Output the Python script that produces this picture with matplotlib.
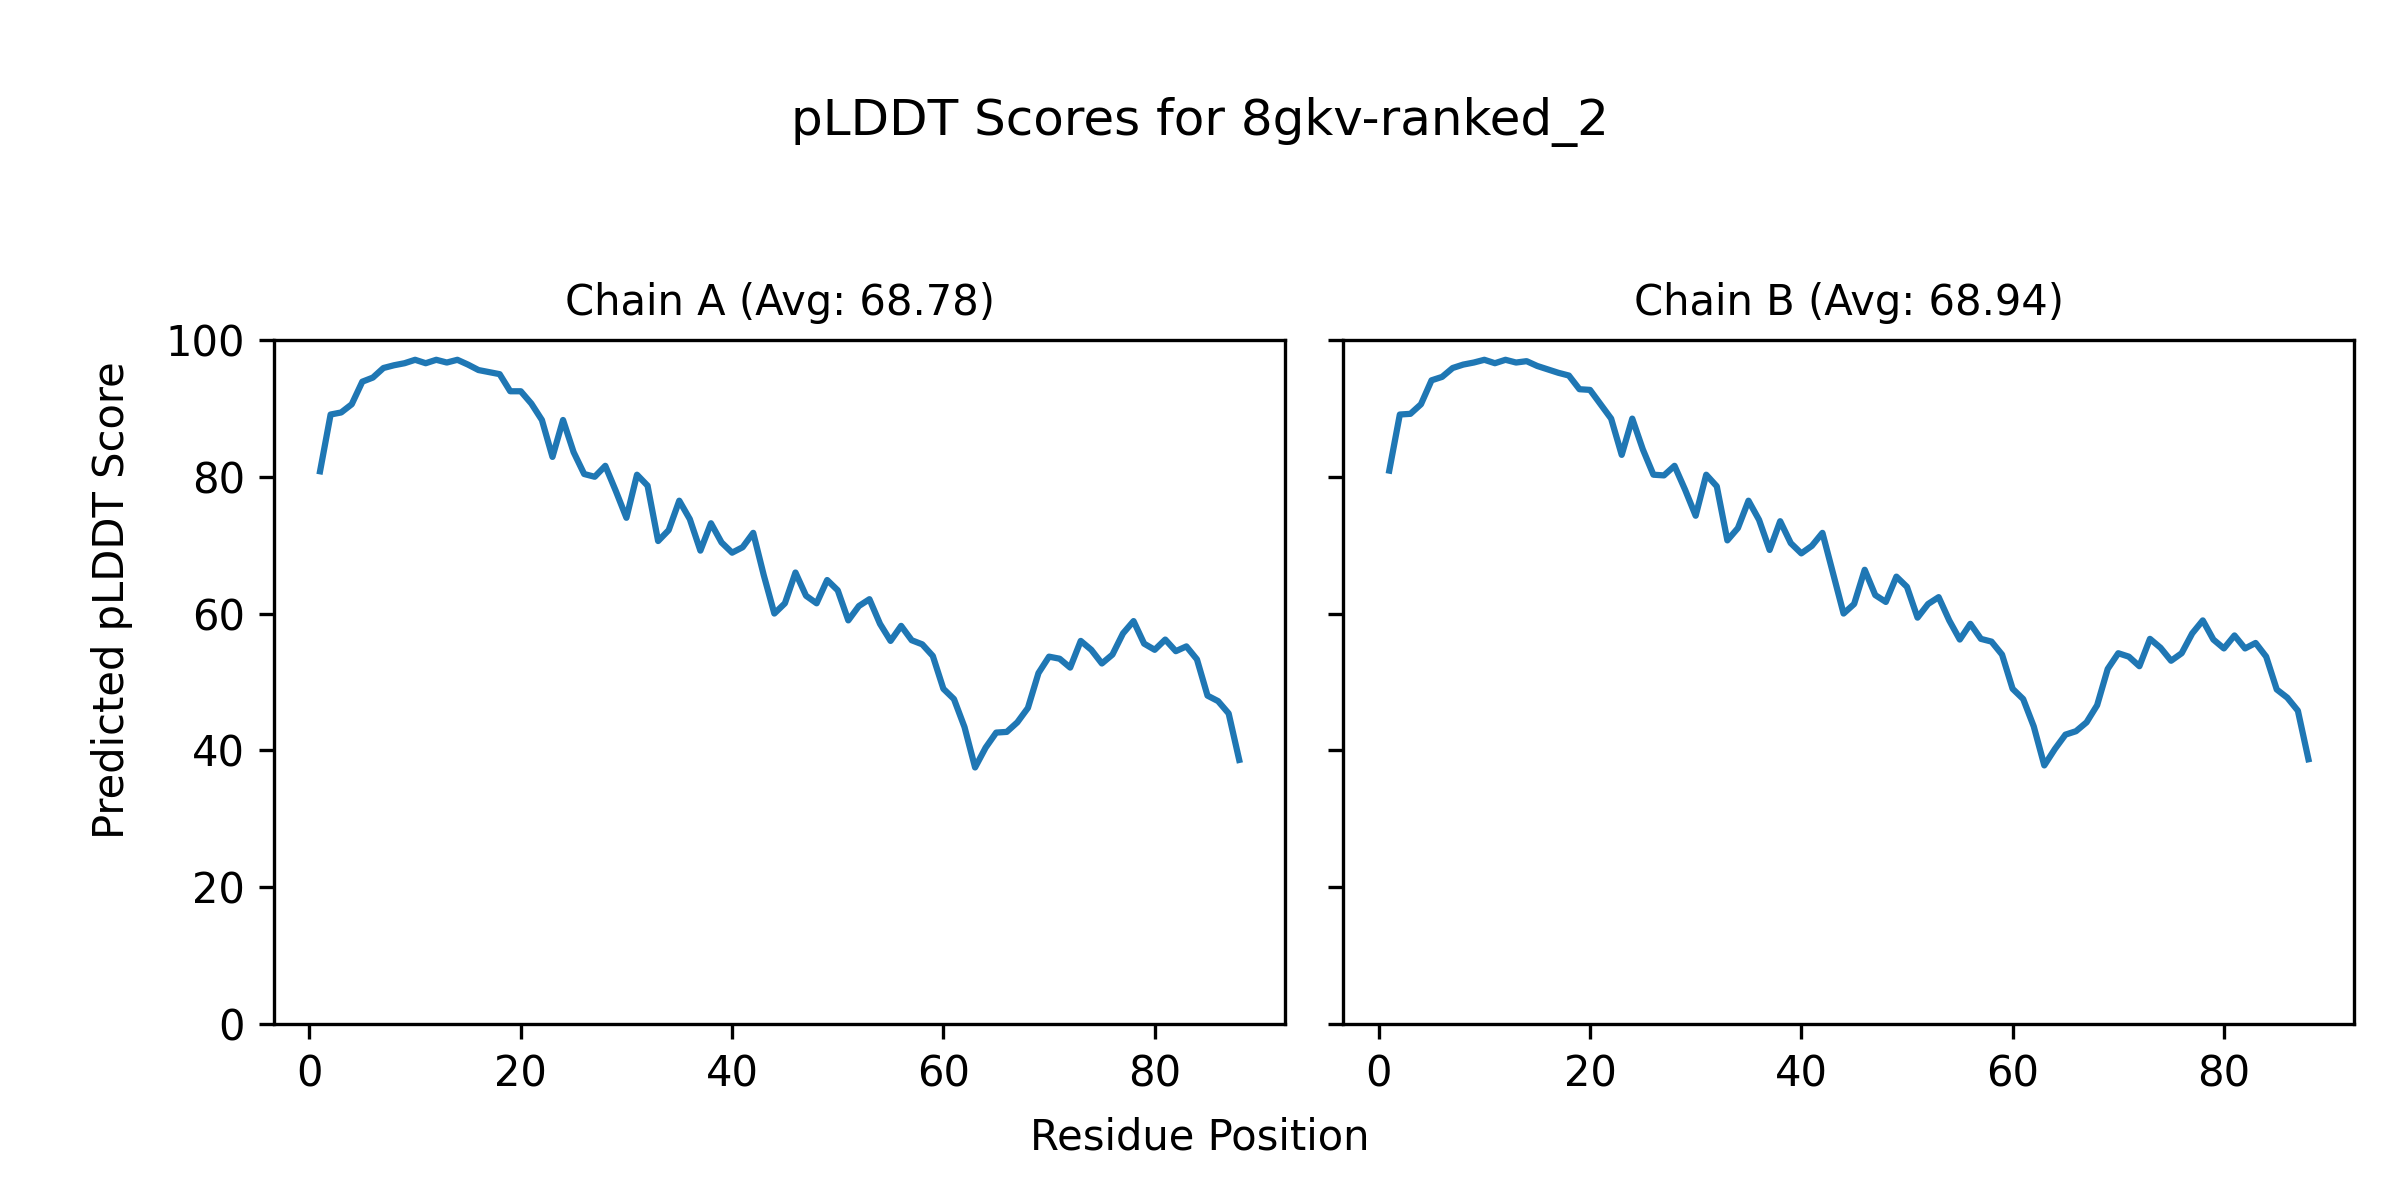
import numpy as np
import matplotlib
matplotlib.use("Agg")
import matplotlib.pyplot as plt

model_name = "8gkv-ranked_2"

residues = np.arange(1, 89)

chain_a = [
    80.8, 89.1, 89.4, 90.6, 93.9, 94.5, 95.9, 96.3, 96.6, 97.1,
    96.6, 97.1, 96.7, 97.1, 96.4, 95.6, 95.3, 95.0, 92.5, 92.5,
    90.7, 88.3, 82.9, 88.3, 83.6, 80.4, 80.0, 81.6, 77.9, 74.0,
    80.3, 78.7, 70.6, 72.2, 76.5, 73.8, 69.2, 73.2, 70.4, 68.9,
    69.7, 71.8, 65.6, 60.0, 61.5, 66.0, 62.6, 61.5, 64.9, 63.4,
    59.0, 61.1, 62.1, 58.5, 56.0, 58.2, 56.1, 55.5, 53.8, 49.0,
    47.5, 43.4, 37.5, 40.4, 42.6, 42.7, 44.1, 46.2, 51.3, 53.7,
    53.4, 52.1, 56.0, 54.7, 52.7, 54.0, 57.1, 58.9, 55.6, 54.7,
    56.2, 54.5, 55.2, 53.3, 48.0, 47.2, 45.4, 38.6,
]

chain_b = [
    80.9, 89.1, 89.2, 90.6, 94.1, 94.6, 95.9, 96.4, 96.7, 97.1,
    96.6, 97.1, 96.7, 96.9, 96.2, 95.7, 95.2, 94.8, 92.8, 92.7,
    90.6, 88.5, 83.2, 88.5, 84.0, 80.3, 80.2, 81.6, 78.1, 74.3,
    80.3, 78.6, 70.7, 72.5, 76.5, 73.7, 69.3, 73.5, 70.3, 68.8,
    69.9, 71.8, 65.9, 60.0, 61.4, 66.4, 62.7, 61.7, 65.4, 63.9,
    59.4, 61.4, 62.4, 59.0, 56.2, 58.5, 56.3, 55.9, 54.0, 49.0,
    47.5, 43.5, 37.8, 40.2, 42.3, 42.8, 44.1, 46.6, 51.9, 54.2,
    53.7, 52.3, 56.3, 55.0, 53.1, 54.2, 57.1, 59.0, 56.2, 54.9,
    56.8, 54.9, 55.7, 53.7, 48.9, 47.7, 45.8, 38.7,
]

chain_names = ["A", "B"]
chain_avgs = [68.78, 68.94]

fig, axes = plt.subplots(1, 2, figsize=(8, 4), dpi=300, sharey=True)
fig.subplots_adjust(left=0.1142, right=0.981, bottom=0.1467, top=0.7167, wspace=0.0575)

for ax, name, scores, avg in zip(axes, chain_names, [chain_a, chain_b], chain_avgs):
    ax.plot(residues, scores, color="#1f77b4", linewidth=1.5)
    ax.set_title(f"Chain {name} (Avg: {avg:.2f})", fontsize=10)
    ax.set_ylim(0, 100)

fig.suptitle(f"pLDDT Scores for {model_name}", fontsize=12, y=0.898, va="center")
fig.supxlabel("Residue Position", fontsize=10, y=0.0525, va="center")
fig.supylabel("Predicted pLDDT Score", fontsize=10, x=0.0467, ha="center")

fig.savefig("out.png", dpi=300)
